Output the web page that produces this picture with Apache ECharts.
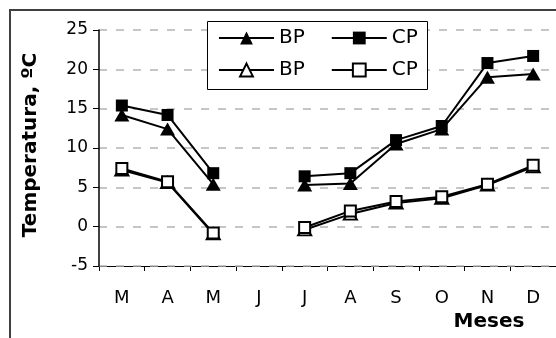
<!DOCTYPE html>
<html>
<head>
<meta charset="utf-8">
<script src="https://cdn.jsdelivr.net/npm/echarts@6/dist/echarts.min.js"></script>
<style>
html,body{margin:0;padding:0;background:#fff;}
#c{width:556px;height:338px;}
</style>
</head>
<body>
<div id="c"></div>
<script>
var months = ['M','A','M','J','J','A','S','O','N','D'];
var bpFilled = [14.2, 12.4, 5.4, null, 5.3, 5.5, 10.5, 12.4, 19.0, 19.4];
var cpFilled = [15.4, 14.2, 6.8, null, 6.4, 6.8, 11.0, 12.8, 20.8, 21.7];
var bpOpen   = [7.2, 5.6, -0.9, null, -0.4, 1.6, 3.0, 3.6, 5.3, 7.6];
var cpOpen   = [7.4, 5.7, -0.8, null, -0.1, 2.0, 3.2, 3.8, 5.4, 7.8];
var yTicks = {min: -5, max: 25, interval: 5};
var yTitle = 'Temperatura, ºC';
var xTitle = 'Meses';

var FONT = '"DejaVu Sans", sans-serif';
var chart = echarts.init(document.getElementById('c'), null, {renderer: 'canvas'});

function lineSeries(name, data, symbol, size, filled, z) {
  return {
    name: name, type: 'line', data: data, symbol: symbol, symbolSize: size,
    connectNulls: false, z: z,
    lineStyle: {color: '#000', width: 2},
    itemStyle: filled ? {color: '#000', borderColor: '#000', borderWidth: 0}
                      : {color: '#fff', borderColor: '#000', borderWidth: 2},
    emphasis: {disabled: true},
    animation: false
  };
}

var legendCommon = {
  orient: 'horizontal', padding: 0, itemWidth: 55, itemHeight: 16, itemGap: 26,
  textStyle: {fontFamily: FONT, fontSize: 20, color: '#000'},
  formatter: function (n) { return n.slice(0, 2); },
  selectedMode: false, z: 5
};

chart.setOption({
  animation: false,
  backgroundColor: '#fff',
  grid: {left: 99, top: 30, width: 463, height: 236, containLabel: false},
  xAxis: {
    type: 'category', data: months, boundaryGap: true,
    axisLine: {show: true, onZero: false, lineStyle: {color: '#000', width: 1}},
    axisTick: {show: true, length: 5, inside: false, alignWithLabel: false, lineStyle: {color: '#000'}},
    axisLabel: {color: '#000', fontFamily: FONT, fontSize: 18, margin: 23, interval: 0},
    splitLine: {show: false}
  },
  yAxis: {
    type: 'value', position: 'left', min: yTicks.min, max: yTicks.max, interval: yTicks.interval,
    axisLine: {show: true, onZero: false, lineStyle: {color: '#000', width: 1.5}},
    axisTick: {show: true, length: 6, lineStyle: {color: '#000'}},
    axisLabel: {color: '#000', fontFamily: FONT, fontSize: 17, margin: 11},
    splitLine: {show: true, lineStyle: {color: '#b4b4b4', width: 1.5, type: [8, 9]}},
    z: 1
  },
  legend: [
    Object.assign({}, legendCommon, {data: ['BP1', 'CP1'], left: 218, top: 28}),
    Object.assign({}, legendCommon, {data: ['BP2', 'CP2'], left: 218, top: 60})
  ],
  graphic: [
    {type: 'rect', shape: {x: 10, y: 10, width: 600, height: 400}, style: {fill: 'none', stroke: '#404040', lineWidth: 2}, z: 0, silent: true},
    {type: 'rect', shape: {x: 207.5, y: 21.5, width: 220, height: 68}, style: {fill: '#fff', stroke: '#000', lineWidth: 1}, z: 3, silent: true},
    {type: 'text', x: 31, y: 145, rotation: Math.PI / 2, style: {text: yTitle, font: 'bold 20px "DejaVu Sans", sans-serif', fill: '#000', textAlign: 'center', textVerticalAlign: 'middle'}, z: 5, silent: true},
    {type: 'text', x: 489, y: 322, style: {text: xTitle, font: 'bold 20px "DejaVu Sans", sans-serif', fill: '#000', textAlign: 'center', textVerticalAlign: 'middle'}, z: 5, silent: true}
  ],
  series: [
    lineSeries('BP1', bpFilled, 'triangle', [15, 13], true, 3),
    lineSeries('CP1', cpFilled, 'rect', 12, true, 3),
    lineSeries('BP2', bpOpen, 'triangle', [13, 11], false, 4),
    lineSeries('CP2', cpOpen, 'rect', 11, false, 4)
  ]
});
</script>
</body>
</html>
